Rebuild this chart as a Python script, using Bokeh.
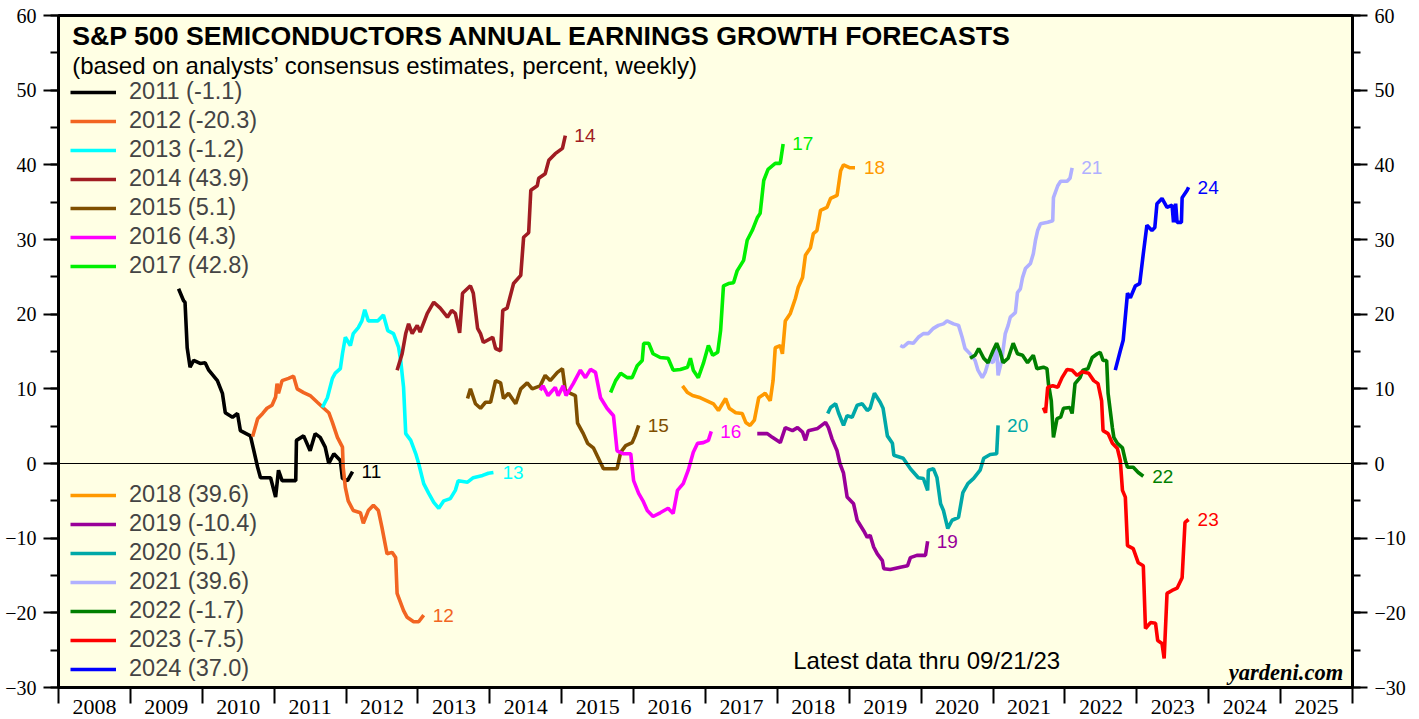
from bokeh.plotting import figure
from bokeh.models import (Range1d, LinearAxis, SingleIntervalTicker, FixedTicker,
                          CustomJSTickFormatter, Span, Label, Legend, LegendItem,
                          ColumnDataSource)
from bokeh.core.properties import value
from bokeh.embed import file_html
from bokeh.resources import INLINE

# ---------------- data (forecast year -> weekly consensus growth, %) ----------------
t2011 = [2009.67, 2009.74, 2009.76, 2009.79, 2009.83, 2009.88, 2009.97, 2010.04, 2010.09, 2010.21,
         2010.28, 2010.32, 2010.42, 2010.49, 2010.53, 2010.67, 2010.77, 2010.81, 2010.95, 2011.02,
         2011.06, 2011.11, 2011.23, 2011.30, 2011.31, 2011.41, 2011.50, 2011.57, 2011.64, 2011.71,
         2011.76, 2011.83, 2011.92, 2011.95, 2012.02, 2012.09]
v2011 = [23.4, 21.8, 21.6, 15.5, 12.9, 13.8, 13.4, 13.5, 12.5, 11.1,
         9.4, 6.8, 6.2, 6.7, 4.4, 3.7, -0.5, -1.9, -1.9, -4.5,
         -0.9, -2.3, -2.3, -2.3, 3.1, 3.7, 1.7, 4.0, 3.5, 2.2,
         0.0, 1.3, 0.4, -2.0, -2.3, -1.1]

t2012 = [2010.70, 2010.77, 2010.84, 2010.90, 2010.97, 2011.02, 2011.04, 2011.06, 2011.11, 2011.20,
         2011.27, 2011.32, 2011.41, 2011.50, 2011.60, 2011.69, 2011.76, 2011.81, 2011.88, 2011.95,
         2011.96, 2011.99, 2012.03, 2012.10, 2012.20, 2012.24, 2012.31, 2012.38, 2012.45, 2012.50,
         2012.57, 2012.64, 2012.69, 2012.71, 2012.80, 2012.85, 2012.94, 2013.01, 2013.08]
v2012 = [3.6, 6.0, 6.7, 7.4, 7.8, 8.9, 10.7, 9.4, 11.1, 11.4,
         11.7, 10.0, 9.5, 9.1, 8.2, 7.4, 6.8, 5.5, 3.5, 2.2,
         -0.5, -3.2, -5.0, -6.3, -6.6, -8.0, -6.3, -5.6, -6.3, -8.6,
         -12.1, -11.9, -12.6, -17.4, -19.7, -20.6, -21.2, -21.2, -20.3]

t2013 = [2011.67, 2011.74, 2011.81, 2011.85, 2011.92, 2011.95, 2011.99, 2012.06, 2012.10, 2012.17,
         2012.22, 2012.26, 2012.31, 2012.44, 2012.52, 2012.58, 2012.66, 2012.73, 2012.76, 2012.80,
         2012.83, 2012.90, 2012.97, 2013.01, 2013.08, 2013.15, 2013.22, 2013.29, 2013.36, 2013.45,
         2013.52, 2013.56, 2013.69, 2013.77, 2013.90, 2013.98, 2014.05]
v2013 = [7.5, 8.8, 11.4, 12.1, 12.7, 14.7, 16.9, 15.8, 17.4, 18.2,
         19.1, 20.6, 19.1, 19.1, 19.9, 17.8, 17.4, 15.6, 13.8, 10.2,
         4.0, 3.1, 1.3, 0.0, -2.7, -4.0, -5.2, -6.0, -5.0, -4.7,
         -3.6, -2.3, -2.5, -1.9, -1.6, -1.3, -1.2]

t2014 = [2012.71, 2012.78, 2012.83, 2012.87, 2012.92, 2012.99, 2013.03, 2013.13, 2013.22, 2013.31,
         2013.41, 2013.47, 2013.52, 2013.58, 2013.62, 2013.73, 2013.77, 2013.83, 2013.87, 2013.91,
         2014.04, 2014.08, 2014.15, 2014.18, 2014.24, 2014.33, 2014.43, 2014.47, 2014.54, 2014.57,
         2014.66, 2014.68, 2014.77, 2014.82, 2014.91, 2015.01, 2015.05]
v2014 = [12.5, 14.7, 17.4, 18.7, 17.4, 18.5, 17.6, 20.1, 21.6, 20.8,
         19.6, 20.5, 20.1, 17.5, 22.8, 23.8, 22.8, 18.1, 17.4, 16.2,
         16.9, 15.4, 15.1, 20.5, 20.8, 24.1, 25.2, 30.3, 30.9, 36.6,
         37.2, 38.2, 38.8, 40.6, 41.5, 42.2, 43.9]

t2015 = [2013.69, 2013.73, 2013.80, 2013.87, 2013.94, 2014.01, 2014.08, 2014.15, 2014.19, 2014.26,
         2014.36, 2014.43, 2014.52, 2014.59, 2014.70, 2014.77, 2014.84, 2014.94, 2015.01, 2015.05,
         2015.12, 2015.19, 2015.22, 2015.30, 2015.36, 2015.44, 2015.51, 2015.58, 2015.65, 2015.77,
         2015.82, 2015.89, 2015.98, 2016.02, 2016.07]
v2015 = [8.7, 10.0, 8.0, 7.4, 8.2, 8.2, 11.1, 10.8, 8.7, 9.4,
         8.0, 10.0, 10.8, 10.0, 10.4, 11.8, 11.1, 12.2, 12.7, 9.8,
         9.4, 9.1, 5.4, 4.0, 2.7, 2.1, 0.7, -0.7, -0.7, -0.7,
         1.5, 2.4, 2.8, 3.7, 5.1]

t2016 = [2014.70, 2014.74, 2014.81, 2014.91, 2014.95, 2015.02, 2015.06, 2015.16, 2015.26, 2015.33,
         2015.40, 2015.47, 2015.54, 2015.63, 2015.72, 2015.77, 2015.86, 2015.96, 2016.00, 2016.07,
         2016.13, 2016.19, 2016.27, 2016.37, 2016.48, 2016.55, 2016.61, 2016.69, 2016.76, 2016.83,
         2016.89, 2016.97, 2017.04, 2017.08]
v2016 = [9.8, 10.4, 9.1, 10.2, 9.1, 10.4, 9.1, 10.7, 12.5, 11.5,
         12.6, 12.2, 8.8, 7.4, 6.4, 1.7, 1.3, 1.3, -2.3, -4.0,
         -5.0, -6.3, -7.1, -6.6, -6.0, -6.7, -3.6, -2.7, -0.9, 1.5,
         2.7, 2.8, 3.1, 4.3]

t2017 = [2015.68, 2015.75, 2015.82, 2015.91, 2015.98, 2016.05, 2016.12, 2016.14, 2016.21, 2016.27,
         2016.37, 2016.48, 2016.55, 2016.65, 2016.75, 2016.79, 2016.83, 2016.90, 2016.97, 2017.04,
         2017.10, 2017.17, 2017.21, 2017.25, 2017.32, 2017.39, 2017.44, 2017.53, 2017.58, 2017.65,
         2017.72, 2017.76, 2017.81, 2017.87, 2017.97, 2018.04, 2018.08]
v2017 = [9.5, 11.1, 12.1, 11.5, 11.5, 13.1, 13.8, 16.1, 16.1, 14.7,
         14.2, 14.1, 12.5, 12.6, 12.9, 14.1, 12.5, 11.5, 13.4, 15.8,
         14.5, 14.9, 17.8, 23.8, 24.1, 24.2, 25.8, 27.2, 29.9, 31.2,
         32.9, 33.5, 37.9, 39.4, 40.2, 40.2, 42.8]

t2018 = [2016.68, 2016.75, 2016.82, 2016.93, 2017.02, 2017.11, 2017.18, 2017.28, 2017.33, 2017.42,
         2017.51, 2017.56, 2017.62, 2017.68, 2017.74, 2017.83, 2017.90, 2017.94, 2017.97, 2018.04,
         2018.07, 2018.11, 2018.18, 2018.25, 2018.29, 2018.35, 2018.39, 2018.46, 2018.50, 2018.55,
         2018.60, 2018.69, 2018.74, 2018.83, 2018.88, 2018.92, 2019.01, 2019.08]
v2018 = [10.4, 9.5, 9.1, 8.8, 8.4, 8.0, 7.1, 8.7, 7.4, 6.8,
         6.7, 5.5, 5.1, 5.8, 8.8, 9.4, 8.4, 11.1, 15.5, 15.8,
         14.7, 19.1, 20.1, 22.1, 23.6, 24.9, 27.9, 28.9, 30.8, 31.2,
         33.9, 34.3, 35.5, 35.9, 39.2, 40.0, 39.6, 39.6]

t2019 = [2017.72, 2017.86, 2017.93, 2018.04, 2018.11, 2018.21, 2018.28, 2018.35, 2018.39, 2018.43,
         2018.56, 2018.67, 2018.71, 2018.76, 2018.83, 2018.87, 2018.92, 2018.97, 2019.06, 2019.11,
         2019.20, 2019.25, 2019.29, 2019.34, 2019.39, 2019.46, 2019.48, 2019.57, 2019.71, 2019.81,
         2019.85, 2019.94, 2020.06, 2020.09]
v2019 = [4.0, 4.0, 3.5, 2.8, 4.8, 4.4, 4.8, 4.2, 3.1, 4.4,
         4.7, 5.5, 4.8, 3.3, 1.7, 0.0, -1.3, -4.5, -5.4, -7.6,
         -9.0, -9.9, -9.6, -11.2, -12.1, -13.0, -14.1, -14.2, -13.9, -13.7,
         -12.6, -12.3, -12.3, -10.4]

t2020 = [2018.70, 2018.74, 2018.81, 2018.85, 2018.92, 2018.97, 2019.04, 2019.11, 2019.18, 2019.25,
         2019.29, 2019.35, 2019.43, 2019.47, 2019.53, 2019.60, 2019.62, 2019.75, 2019.85, 2019.96,
         2020.03, 2020.09, 2020.10, 2020.17, 2020.22, 2020.27, 2020.31, 2020.37, 2020.43, 2020.52,
         2020.58, 2020.65, 2020.73, 2020.82, 2020.87, 2020.96, 2021.05, 2021.07]
v2020 = [6.7, 7.5, 8.0, 6.8, 5.1, 6.4, 6.2, 7.8, 8.0, 7.1,
         7.4, 9.4, 8.2, 7.4, 3.7, 2.7, 1.1, 0.7, -0.7, -1.9,
         -2.0, -3.6, -0.9, -0.7, -1.9, -5.4, -6.3, -8.7, -7.6, -7.2,
         -3.9, -2.7, -2.0, -0.9, 0.7, 1.2, 1.3, 5.1]

t2021 = [2019.71, 2019.75, 2019.82, 2019.89, 2019.96, 2020.03, 2020.10, 2020.17, 2020.24, 2020.31,
         2020.36, 2020.45, 2020.52, 2020.57, 2020.61, 2020.68, 2020.75, 2020.79, 2020.85, 2020.89,
         2020.94, 2021.00, 2021.05, 2021.07, 2021.12, 2021.17, 2021.21, 2021.24, 2021.31, 2021.34,
         2021.38, 2021.41, 2021.45, 2021.52, 2021.56, 2021.59, 2021.62, 2021.66, 2021.76, 2021.83,
         2021.84, 2021.90, 2021.94, 2022.03, 2022.07, 2022.10]
v2021 = [15.8, 15.6, 16.2, 16.1, 16.9, 17.4, 17.4, 18.1, 18.5, 18.7,
         19.1, 18.7, 18.5, 16.9, 15.4, 14.7, 13.8, 12.5, 11.5, 12.2,
         13.8, 13.5, 15.5, 11.8, 13.8, 17.4, 18.5, 19.6, 20.2, 22.9,
         23.4, 24.9, 26.1, 26.8, 28.1, 29.9, 31.2, 32.1, 32.3, 32.5,
         35.6, 37.2, 37.8, 37.8, 38.2, 39.6]

t2022 = [2020.68, 2020.75, 2020.80, 2020.87, 2020.93, 2021.00, 2021.05, 2021.10, 2021.14, 2021.21,
         2021.28, 2021.34, 2021.41, 2021.48, 2021.56, 2021.61, 2021.70, 2021.75, 2021.77, 2021.81,
         2021.84, 2021.89, 2021.94, 2021.98, 2022.07, 2022.10, 2022.14, 2022.21, 2022.25, 2022.32,
         2022.38, 2022.45, 2022.49, 2022.53, 2022.58, 2022.60, 2022.66, 2022.68, 2022.73, 2022.80,
         2022.84, 2022.87, 2022.95, 2023.02, 2023.09]
v2022 = [14.1, 14.5, 15.4, 14.1, 13.5, 15.1, 16.1, 14.9, 13.5, 14.1,
         16.1, 14.7, 14.5, 13.5, 14.5, 12.7, 12.9, 12.7, 10.7, 8.4,
         3.5, 6.0, 6.2, 7.4, 7.5, 6.7, 10.7, 11.5, 12.5, 12.7,
         14.2, 14.7, 14.9, 13.8, 13.8, 9.4, 4.8, 3.5, 2.7, 2.1,
         0.4, -0.5, -0.5, -1.2, -1.7]

t2023 = [2021.70, 2021.73, 2021.76, 2021.83, 2021.90, 2021.96, 2022.03, 2022.10, 2022.17, 2022.24,
         2022.33, 2022.40, 2022.46, 2022.51, 2022.53, 2022.60, 2022.66, 2022.73, 2022.77, 2022.80,
         2022.84, 2022.87, 2022.95, 2023.02, 2023.09, 2023.12, 2023.19, 2023.26, 2023.29, 2023.35,
         2023.38, 2023.42, 2023.49, 2023.56, 2023.63, 2023.67, 2023.72]
v2023 = [7.5, 6.8, 10.2, 10.4, 10.2, 11.5, 12.6, 12.5, 11.8, 12.3,
         12.1, 11.1, 10.7, 8.4, 4.4, 4.0, 2.7, 2.0, 0.4, -3.6,
         -4.5, -11.0, -11.4, -13.3, -13.7, -22.1, -21.3, -21.4, -23.7, -24.1,
         -26.1, -17.4, -17.0, -16.7, -15.3, -7.9, -7.5]

t2024 = [2022.70, 2022.77, 2022.81, 2022.87, 2022.91, 2022.98, 2023.04, 2023.09, 2023.14, 2023.21,
         2023.25, 2023.28, 2023.35, 2023.42, 2023.49, 2023.51, 2023.54, 2023.56, 2023.62, 2023.63,
         2023.70, 2023.72]
v2024 = [12.5, 15.1, 16.5, 22.8, 22.2, 23.8, 24.1, 28.1, 31.9, 31.2,
         31.6, 34.8, 35.5, 34.3, 34.6, 32.3, 34.8, 32.3, 32.3, 35.6,
         36.6, 37.0]

forecast_years = [2011, 2012, 2013, 2014, 2015, 2016, 2017,
                  2018, 2019, 2020, 2021, 2022, 2023, 2024]
series_t = [t2011, t2012, t2013, t2014, t2015, t2016, t2017,
            t2018, t2019, t2020, t2021, t2022, t2023, t2024]
series_v = [v2011, v2012, v2013, v2014, v2015, v2016, v2017,
            v2018, v2019, v2020, v2021, v2022, v2023, v2024]
colors = ["#000000", "#F26522", "#00FFFF", "#A01C22", "#7F4F00", "#FF00FF", "#00F000",
          "#FF9900", "#990099", "#00A8A8", "#B0B0FF", "#007F00", "#FF0000", "#0000FF"]

x_year_labels = list(range(2008, 2026))
y_ticks_interval = 10

title_text = "S&P 500 SEMICONDUCTORS ANNUAL EARNINGS GROWTH FORECASTS"
subtitle_text = "(based on analysts\u2019 consensus estimates, percent, weekly)"
latest_text = "Latest data thru 09/21/23"
source_text = "yardeni.com"

# ---------------- figure ----------------
SANS = "Liberation Sans"
SERIF = "Liberation Serif"

p = figure(width=1410, height=717,
           x_range=Range1d(x_year_labels[0], x_year_labels[-1] + 1),
           y_range=Range1d(-30, 60),
           output_backend="svg", toolbar_location=None,
           min_border_left=58, min_border_right=58, min_border_top=15, min_border_bottom=30)
p.background_fill_color = "#FFFFE4"
p.border_fill_color = "white"
p.outline_line_color = "black"
p.outline_line_width = 3
p.xgrid.visible = False
p.ygrid.visible = False

def style_y(ax):
    ax.ticker = SingleIntervalTicker(interval=y_ticks_interval, num_minor_ticks=2)
    ax.axis_line_width = 3
    ax.major_tick_in = 0
    ax.major_tick_out = 15
    ax.minor_tick_in = 0
    ax.minor_tick_out = 8
    ax.major_tick_line_width = 2
    ax.minor_tick_line_width = 2
    ax.major_label_text_font = SERIF
    ax.major_label_text_font_size = "20px"
    ax.major_label_text_color = "black"
    ax.major_label_standoff = 7

style_y(p.yaxis[0])
yr = LinearAxis()
style_y(yr)
p.add_layout(yr, "right")

xa = p.xaxis[0]
xa.ticker = FixedTicker(ticks=[y + 0.5 for y in x_year_labels],
                        minor_ticks=x_year_labels + [x_year_labels[-1] + 1])
xa.formatter = CustomJSTickFormatter(code="return String(Math.floor(tick));")
xa.axis_line_width = 3
xa.major_tick_in = 0
xa.major_tick_out = 0
xa.minor_tick_in = 0
xa.minor_tick_out = 16
xa.minor_tick_line_width = 2
xa.major_label_text_font = SERIF
xa.major_label_text_font_size = "22px"
xa.major_label_text_color = "black"
xa.major_label_standoff = -4

p.add_layout(Span(location=0, dimension="width", line_color="black", line_width=1))

renderers = []
for yr_, t, v, c in zip(forecast_years, series_t, series_v, colors):
    r = p.line(t, v, line_color=c, line_width=3.6)
    renderers.append(r)

# end labels
end_src = ColumnDataSource(dict(
    x=[t[-1] for t in series_t],
    y=[v[-1] for v in series_v],
    text=[str(y)[2:] for y in forecast_years],
    color=colors))
p.text(x="x", y="y", text="text", source=end_src, text_color="color",
       x_offset=9, text_baseline="middle", text_align="left",
       text_font=value(SANS), text_font_size="19px")

# legends
items = [LegendItem(label=f"{y} ({v[-1]:.1f})", renderers=[r])
         for y, v, r in zip(forecast_years, series_v, renderers)]

def make_legend(its, loc):
    lg = Legend(items=its, location=loc, background_fill_alpha=0,
                border_line_color=None, padding=0, margin=0,
                label_text_font=SANS, label_text_font_size="23.5px",
                glyph_width=46, glyph_height=24, label_height=24,
                label_standoff=13, spacing=2)
    return lg

p.add_layout(make_legend(items[:7], (12, 408)))
p.add_layout(make_legend(items[7:], (12, 5)))

# titles and notes
p.add_layout(Label(x=2008.19, y=57.3, text=title_text, text_font=SANS,
                   text_font_style="bold", text_font_size="26.7px",
                   text_baseline="middle", text_color="black"))
p.add_layout(Label(x=2008.19, y=53.3, text=subtitle_text, text_font=SANS,
                   text_font_size="24px", text_baseline="middle", text_color="black"))
p.add_layout(Label(x=2018.22, y=-26.4, text=latest_text, text_font=SANS,
                   text_font_size="24px", text_baseline="middle", text_color="black"))
p.add_layout(Label(x=2025.87, y=-28.0, text=source_text, text_font=SERIF,
                   text_font_style="bold italic", text_font_size="22.5px",
                   text_align="right", text_baseline="middle", text_color="black"))

open("out.html", "w").write(file_html(p, INLINE))
